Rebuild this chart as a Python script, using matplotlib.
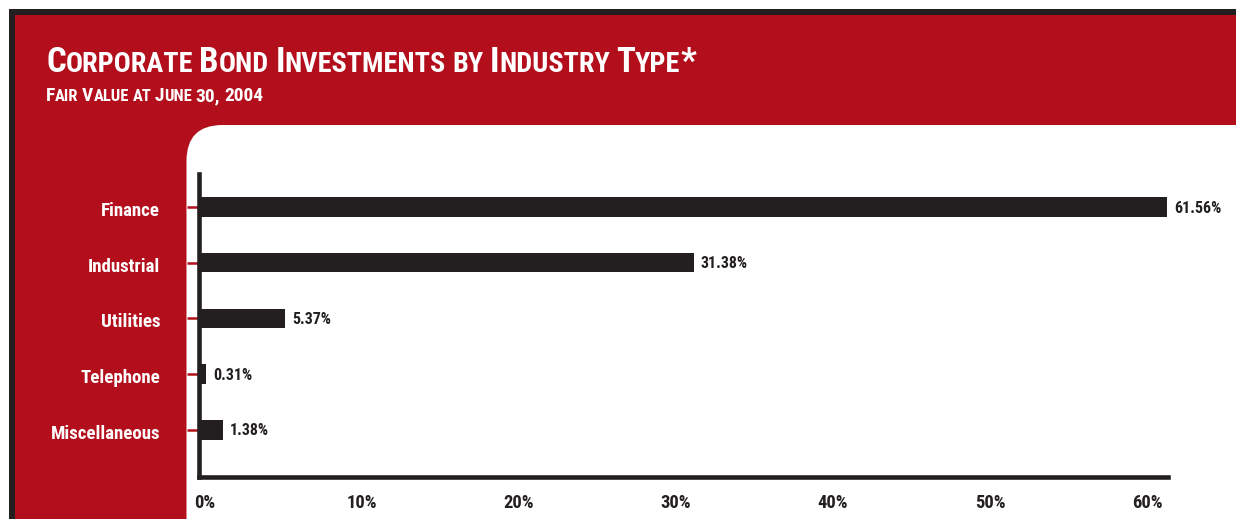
import matplotlib
matplotlib.use("Agg")
import matplotlib.pyplot as plt
from matplotlib.patches import Rectangle, FancyBboxPatch
from matplotlib.transforms import ScaledTranslation

# ---- data ----
categories = ["Finance", "Industrial", "Utilities", "Telephone", "Miscellaneous"]
values = [61.56, 31.38, 5.37, 0.31, 1.38]
x_ticks = [0, 10, 20, 30, 40, 50, 60]
x_tick_labels = ["0%", "10%", "20%", "30%", "40%", "50%", "60%"]
title = "Corporate Bond Investments by Industry Type*"
subtitle = "Fair Value at June 30, 2004"

RED = "#b30e1b"
DARK = "#231f20"
FONT = ["Roboto Condensed", "Liberation Sans Narrow", "DejaVu Sans"]

W, H = 1236, 519
fig = plt.figure(figsize=(W / 100, H / 100), dpi=100)

# background / decoration axes in pixel units (y downwards)
bg = fig.add_axes([0, 0, 1, 1])
bg.set_xlim(0, W)
bg.set_ylim(H, 0)
bg.axis("off")
bg.add_patch(Rectangle((9, 9), 1400, 700, fc=DARK, ec="none"))
bg.add_patch(Rectangle((15, 15), 1400, 700, fc=RED, ec="none"))
bg.add_patch(FancyBboxPatch((186.5, 125), 1400, 700,
                            boxstyle="round,pad=0,rounding_size=36",
                            fc="white", ec="none"))

renderer = fig.canvas.get_renderer()


def smallcaps(x, y, text, big, small, **kw):
    runs = []
    for ch in text:
        if ch == " ":
            runs.append((" ", None))
            continue
        size = small if ch.islower() else big
        s = ch.upper()
        if runs and runs[-1][1] == size:
            runs[-1] = (runs[-1][0] + s, size)
        else:
            runs.append((s, size))
    for s, size in runs:
        if s == " ":
            x += small * 100 / 72 * 0.22
            continue
        t = bg.text(x, y, s, fontsize=size, va="baseline", ha="left",
                    family=FONT, fontstretch="condensed", **kw)
        x += t.get_window_extent(renderer).width


smallcaps(46, 72, title, 25, 20.3, color="white", fontweight="bold")
smallcaps(46, 101, subtitle, 14, 11.9, color="white", fontweight="bold")

# ---- chart axes ----
left, right, top, bottom = 199, 1168, 174, 477
ax = fig.add_axes([left / W, (H - bottom) / H, (right - left) / W, (bottom - top) / H])
ax.patch.set_alpha(0)

px_per_unit = 15.7
zero_px = 201
ax.set_xlim(-(zero_px - left) / px_per_unit, (right - zero_px) / px_per_unit)
spacing = 55.7
ax.set_ylim(4 + (bottom - 429.8) / spacing, -(207 - top) / spacing)

pos = list(range(len(categories)))
ax.barh(pos, values, height=0.35, color=DARK, zorder=2, clip_on=False)

for i, v in enumerate(values):
    ax.annotate(f"{v:.2f}%", xy=(v, i), xytext=(5, -0.8), textcoords="offset points",
                va="center", ha="left", fontsize=11.5, fontweight="bold",
                color=DARK, family=FONT, fontstretch="condensed", annotation_clip=False)

for side in ("top", "right"):
    ax.spines[side].set_visible(False)
for side in ("left", "bottom"):
    ax.spines[side].set_linewidth(3.3)
    ax.spines[side].set_color(DARK)
    ax.spines[side].set_capstyle("projecting")
    ax.spines[side].set_zorder(3)

ax.set_yticks(pos, categories)
ax.tick_params(axis="y", length=9, width=1.8, color=RED, pad=19,
               labelcolor="white", labelsize=13.6)
ax.set_xticks(x_ticks, x_tick_labels)
ax.tick_params(axis="x", length=0, pad=12, labelcolor=DARK, labelsize=13.3)
for lab in ax.get_yticklabels() + ax.get_xticklabels():
    lab.set_family(FONT)
    lab.set_fontstretch("condensed")
    lab.set_fontweight("bold")

ylab_shift = ScaledTranslation(0, -2 / 100, fig.dpi_scale_trans)
for lab in ax.get_yticklabels():
    lab.set_transform(lab.get_transform() + ylab_shift)
xlab_shift = ScaledTranslation(4 / 100, 0, fig.dpi_scale_trans)
for lab in ax.get_xticklabels():
    lab.set_transform(lab.get_transform() + xlab_shift)

fig.savefig("out.png", dpi=100)
